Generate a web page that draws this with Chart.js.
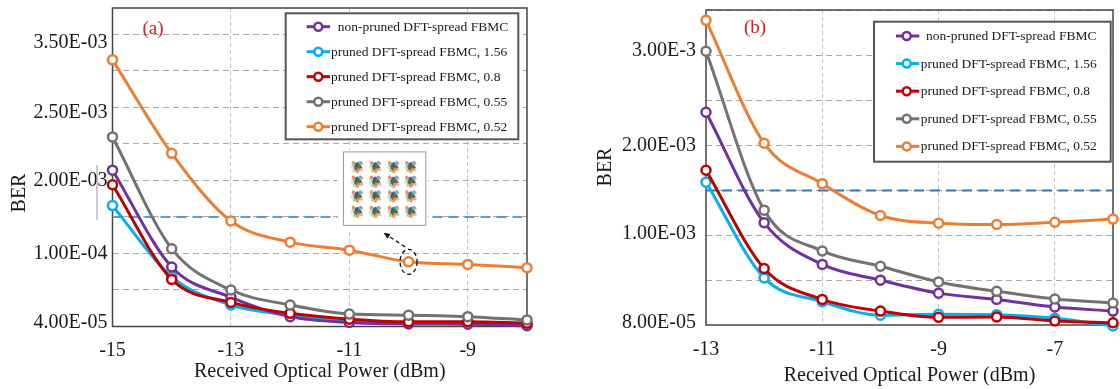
<!DOCTYPE html>
<html><head><meta charset="utf-8">
<script src="https://cdn.jsdelivr.net/npm/chart.js@4"></script>
<style>
html,body{margin:0;padding:0;background:#fff;}
#wrap{position:relative;width:1120px;height:389px;overflow:hidden;background:#fff;}
canvas{position:absolute;top:0;}
</style></head><body>
<div id="wrap">
<canvas id="ca" width="560" height="389" style="left:0"></canvas>
<canvas id="cb" width="560" height="389" style="left:560px"></canvas>
</div>
<script>
// ---------- data ----------
const seriesNames = ['non-pruned DFT-spread FBMC', 'pruned DFT-spread FBMC, 1.56', 'pruned DFT-spread FBMC, 0.8', 'pruned DFT-spread FBMC, 0.55', 'pruned DFT-spread FBMC, 0.52'];

// panel (a)
const powerA = [-15, -14, -13, -12, -11, -10, -9, -8];
const nonPrunedA = [4.28, 1.63, 0.80, 0.27, 0.11, 0.07, 0.06, 0.02];
const pruned156A = [3.31, 1.36, 0.59, 0.31, 0.13, 0.09, 0.09, 0.04];
const pruned08A  = [3.88, 1.29, 0.66, 0.36, 0.20, 0.13, 0.13, 0.09];
const pruned055A = [5.19, 2.13, 1.00, 0.59, 0.34, 0.31, 0.27, 0.18];
const pruned052A = [7.30, 4.74, 2.89, 2.31, 2.09, 1.77, 1.70, 1.61];
const thresholdA = 3;
const xTicksA = [-15, -13, -11, -9];
const yGridA = [0, 1, 2, 3, 4, 5, 6, 7, 8];
const yLabelPosA = [0.09, 2, 4, 5.84, 7.78];
const yLabelsA = ['4.00E-05', '1.00E-04', '2.00E-03', '2.50E-03', '3.50E-03'];

// panel (b)
const powerB = [-13, -12, -11, -10, -9, -8, -7, -6];
const nonPrunedB = [4.74, 2.28, 1.35, 1.00, 0.71, 0.57, 0.40, 0.31];
const pruned156B = [3.18, 1.05, 0.52, 0.22, 0.24, 0.23, 0.15, -0.02];
const pruned08B  = [3.45, 1.26, 0.57, 0.31, 0.17, 0.18, 0.09, 0.05];
const pruned055B = [6.10, 2.56, 1.65, 1.31, 0.96, 0.75, 0.58, 0.49];
const pruned052B = [6.79, 4.05, 3.15, 2.44, 2.27, 2.24, 2.29, 2.36];
const thresholdB = 3;
const xTicksB = [-13, -11, -9, -7];
const yGridB = [0, 1, 2, 3, 4, 5, 6, 7];
const yLabelPosB = [0.05, 2.04, 4, 6.11];
const yLabelsB = ['8.00E-05', '1.00E-03', '2.00E-03', '3.00E-3'];

// ---------- styles ----------
const seriesColors = ['#7030a0', '#00b0f0', '#c00000', '#767171', '#ed7d31'];
const seriesOrder = [4, 5, 3, 2, 1];
const FONT = 'Liberation Serif';
const TXT = '#1a1a1a';

const blobDots = [[0,0,'#283a6e'],[-2,-2,'#d62728'],[2,-1,'#2ca02c'],[-1,2,'#1f77b4'],[2,2,'#9467bd'],[-3,0,'#2ca02c'],[3,1,'#d62728'],[0,-3,'#1f77b4'],[1,3,'#e6a000'],[-2,3,'#d62728'],[-1,-1,'#7b3294'],[1,0,'#1a9641'],[-4,-2,'#9ecae1'],[4,-3,'#fdae6b'],[-3,4,'#a1d99b'],[4,3,'#bcbddc'],[0,5,'#fc9272'],[-5,1,'#c7e9c0'],[3,-4,'#6baed6'],[-4,-4,'#fd8d3c']];

const decorPlugin = {
  id: 'decor',
  beforeDatasetsDraw(chart) {
    const {ctx, chartArea: ca} = chart;
    ctx.save();
    ctx.strokeStyle = '#444';
    ctx.lineWidth = 1.5;
    ctx.strokeRect(ca.left, ca.top, ca.right - ca.left, ca.bottom - ca.top);
    ctx.restore();
  },
  afterDatasetsDraw(chart, args, o) {
    const {ctx} = chart;
    const xs = chart.scales.x, ys = chart.scales.y;
    if (o.inset) {
      const I = o.inset;
      const x0 = xs.getPixelForValue(I.x0), x1 = xs.getPixelForValue(I.x1);
      const y0 = ys.getPixelForValue(I.y1), y1 = ys.getPixelForValue(I.y0);
      ctx.save();
      ctx.fillStyle = '#fff';
      ctx.fillRect(x0 - 6, y0 - 2, x1 - x0 + 8, y1 - y0 + 8);
      ctx.strokeStyle = '#999';
      ctx.lineWidth = 1;
      ctx.strokeRect(x0, y0, x1 - x0, y1 - y0);
      const fx = [0.17, 0.39, 0.61, 0.82], fy = [0.2, 0.4, 0.6, 0.81];
      fy.forEach(a => fx.forEach(b => {
        const cx = x0 + b * (x1 - x0), cy = y0 + a * (y1 - y0);
        blobDots.forEach(d => {
          ctx.fillStyle = d[2];
          ctx.beginPath();
          ctx.arc(cx + d[0], cy + d[1], 1.7, 0, Math.PI * 2);
          ctx.fill();
        });
      }));
      ctx.restore();
    }
    if (o.mark) {
      const M = o.mark;
      const cx = xs.getPixelForValue(M.x), cy = ys.getPixelForValue(M.y);
      ctx.save();
      ctx.strokeStyle = '#111';
      ctx.lineWidth = 1.3;
      ctx.setLineDash([4, 3]);
      ctx.beginPath();
      ctx.ellipse(cx, cy, 8.5, 12.5, 0, 0, Math.PI * 2);
      ctx.stroke();
      const ax0 = cx - 3.5, ay0 = cy - 15, ax1 = cx - 25, ay1 = cy - 29;
      ctx.beginPath();
      ctx.moveTo(ax0, ay0);
      ctx.lineTo(ax1 + 3, ay1 + 2);
      ctx.stroke();
      ctx.setLineDash([]);
      const ang = Math.atan2(ay1 - ay0, ax1 - ax0);
      ctx.fillStyle = '#111';
      ctx.beginPath();
      ctx.moveTo(ax1, ay1);
      ctx.lineTo(ax1 - 7 * Math.cos(ang - 0.4), ay1 - 7 * Math.sin(ang - 0.4));
      ctx.lineTo(ax1 - 7 * Math.cos(ang + 0.4), ay1 - 7 * Math.sin(ang + 0.4));
      ctx.closePath();
      ctx.fill();
      ctx.restore();
    }
  },
  afterDraw(chart, args, o) {
    const {ctx} = chart;
    ctx.save();
    ctx.fillStyle = '#e31a1c';
    ctx.font = '19px "' + FONT + '"';
    ctx.textAlign = 'center';
    ctx.textBaseline = 'middle';
    ctx.fillText(o.tag.text, o.tag.x, o.tag.y);
    ctx.fillStyle = TXT;
    ctx.font = '20px "' + FONT + '"';
    ctx.save();
    ctx.translate(o.yTitle.x, o.yTitle.y);
    ctx.rotate(-Math.PI / 2);
    ctx.fillText(o.yTitle.text, 0, 0);
    ctx.restore();
    if (o.stub) {
      ctx.strokeStyle = '#999';
      ctx.lineWidth = 1;
      ctx.beginPath();
      ctx.moveTo(o.stub.x, o.stub.y0);
      ctx.lineTo(o.stub.x, o.stub.y1);
      ctx.stroke();
    }
    const L = o.legend;
    ctx.fillStyle = '#fff';
    ctx.fillRect(L.x, L.y, L.w, L.h);
    ctx.strokeStyle = '#555';
    ctx.lineWidth = 2;
    ctx.strokeRect(L.x, L.y, L.w, L.h);
    ctx.font = '13.5px "' + FONT + '"';
    ctx.textAlign = 'left';
    ctx.textBaseline = 'middle';
    seriesNames.forEach((name, i) => {
      const y = L.row0 + i * L.gap;
      ctx.strokeStyle = seriesColors[i];
      ctx.lineWidth = 3;
      ctx.beginPath();
      ctx.moveTo(L.sx0, y);
      ctx.lineTo(L.sx1, y);
      ctx.stroke();
      ctx.fillStyle = '#fff';
      ctx.lineWidth = 2.5;
      ctx.beginPath();
      ctx.arc(L.mx, y, 4, 0, Math.PI * 2);
      ctx.fill();
      ctx.stroke();
      ctx.fillStyle = '#1a1a1a';
      ctx.fillText(name, L.tx + (i === 0 ? L.indent : 0), y + 0.5);
    });
    ctx.restore();
  }
};

function makeChart(id, c) {
  const sets = c.series.map((vals, i) => ({
    label: seriesNames[i],
    data: c.power.map((p, k) => ({x: p, y: vals[k]})),
    borderColor: seriesColors[i],
    backgroundColor: '#fff',
    borderWidth: 3,
    pointRadius: 4.5,
    pointBorderWidth: 2.5,
    pointBackgroundColor: '#fff',
    pointBorderColor: seriesColors[i],
    cubicInterpolationMode: 'monotone',
    clip: false,
    order: seriesOrder[i]
  }));
  sets.push({
    label: 'threshold',
    data: [{x: c.power[0], y: c.threshold}, {x: c.power[c.power.length - 1], y: c.threshold}],
    borderColor: c.thrColor,
    borderWidth: 2,
    borderDash: [10, 6],
    pointRadius: 0,
    clip: false,
    order: 10
  });
  const yVals = Array.from(new Set([...c.yGrid, ...c.yLabelPos])).sort((a, b) => a - b);
  const xmin = c.power[0], xmax = c.power[c.power.length - 1];
  return new Chart(document.getElementById(id), {
    type: 'line',
    data: {datasets: sets},
    plugins: [decorPlugin],
    options: {
      responsive: false,
      maintainAspectRatio: false,
      animation: false,
      devicePixelRatio: 1,
      layout: {padding: c.padding},
      plugins: {
        legend: {display: false},
        tooltip: {enabled: false},
        decor: c.decor
      },
      scales: {
        x: {
          type: 'linear', min: xmin, max: xmax,
          afterBuildTicks(axis) { axis.ticks = c.xTicks.map(v => ({value: v})); },
          afterFit(axis) { axis.height = c.xHeight; axis.paddingLeft = 0; axis.paddingRight = 0; },
          ticks: {autoSkip: false, maxRotation: 0, padding: c.xPad, color: TXT, font: {family: FONT, size: 20}, callback: v => String(v)},
          grid: {drawTicks: false, lineWidth: 1, color: ctx => (ctx.tick && ctx.tick.value !== xmin) ? '#c4c4c4' : 'rgba(0,0,0,0)'},
          border: {display: false, dash: [4, 3]},
          title: {display: true, text: 'Received Optical Power (dBm)', color: TXT, font: {family: FONT, size: 20}, padding: {top: 0, bottom: c.xTitlePad}}
        },
        y: {
          type: 'linear', min: 0, max: c.yMax,
          afterBuildTicks(axis) { axis.ticks = yVals.map(v => ({value: v})); },
          afterFit(axis) { axis.width = c.yWidth; axis.paddingTop = 0; axis.paddingBottom = 0; },
          ticks: {autoSkip: false, padding: c.yPad, color: TXT, font: {family: FONT, size: 20},
            callback: v => { const k = c.yLabelPos.indexOf(v); return k >= 0 ? c.yLabels[k] : ''; }},
          grid: {drawTicks: false, lineWidth: 1, color: ctx => (ctx.tick && c.yGrid.includes(ctx.tick.value) && ctx.tick.value > 0) ? '#a8a8a8' : 'rgba(0,0,0,0)'},
          border: {display: false, dash: [6, 4]}
        }
      }
    }
  });
}

makeChart('ca', {
  power: powerA,
  series: [nonPrunedA, pruned156A, pruned08A, pruned055A, pruned052A],
  threshold: thresholdA, thrColor: '#5b9bd5',
  xTicks: xTicksA, yGrid: yGridA, yLabelPos: yLabelPosA, yLabels: yLabelsA,
  yMax: 8.72, yWidth: 112.5, yPad: 5, xHeight: 62.5, xPad: 12.5, xTitlePad: 5,
  padding: {left: 0, right: 33, top: 8, bottom: 0},
  decor: {
    tag: {text: '(a)', x: 153, y: 29},
    yTitle: {text: 'BER', x: 20, y: 193},
    stub: {x: 97, y0: 165, y1: 220},
    inset: {x0: -11.1, x1: -9.71, y0: 2.77, y1: 4.78},
    mark: {x: powerA[5], y: pruned052A[5]},
    legend: {x: 285.7, y: 13.3, w: 232.6, h: 126, row0: 26.7, gap: 25, sx0: 306.7, sx1: 330, mx: 318.3, tx: 331, indent: 6.7}
  }
});

makeChart('cb', {
  power: powerB,
  series: [nonPrunedB, pruned156B, pruned08B, pruned055B, pruned052B],
  threshold: thresholdB, thrColor: '#2e75b6',
  xTicks: xTicksB, yGrid: yGridB, yLabelPos: yLabelPosB, yLabels: yLabelsB,
  yMax: 7.02, yWidth: 146, yPad: 10, xHeight: 64, xPad: 13, xTitlePad: 1,
  padding: {left: 0, right: 2, top: 10, bottom: 0},
  decor: {
    tag: {text: '(b)', x: 195, y: 28},
    yTitle: {text: 'BER', x: 46, y: 167},
    legend: {x: 314, y: 21.7, w: 236.7, h: 140, row0: 36, gap: 27.6, sx0: 336, sx1: 359.3, mx: 346.7, tx: 360.7, indent: 5.3}
  }
});
</script>
</body></html>
